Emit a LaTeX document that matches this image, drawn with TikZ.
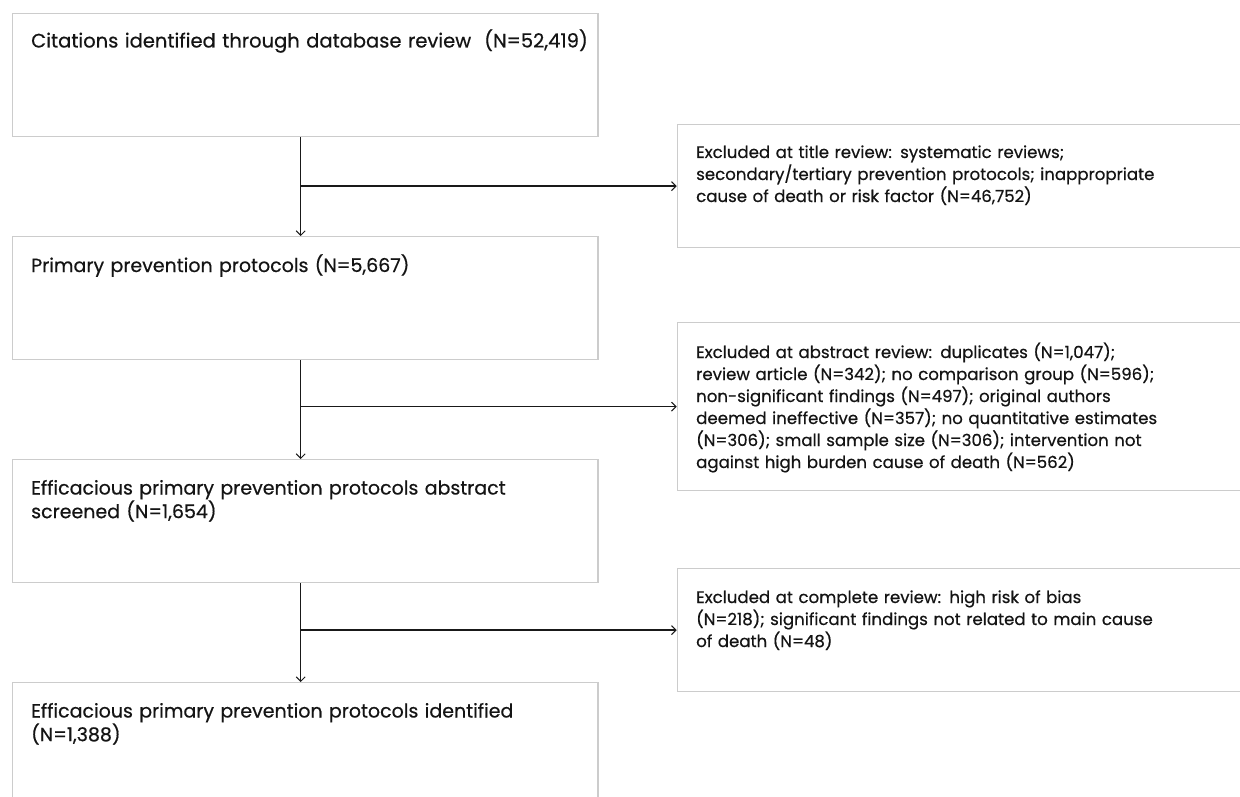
\documentclass[tikz,border=0pt]{standalone}
\usepackage{fontspec}
\setmainfont{Poppins}[FakeBold=0.5]
\usetikzlibrary{arrows.meta}
\tikzset{
  box/.style={draw=black!20, line width=1.3pt, fill=white, inner sep=0pt, anchor=north west, minimum height=123pt},
  leftbox/.style={box, minimum width=585.5pt},
  rightbox/.style={box, minimum width=600pt},
  txt/.style={anchor=base west, inner sep=0pt, align=left, text width=700pt, text=black!92},
  ltxt/.style={txt, font=\fontsize{19pt}{22pt}\selectfont},
  rtxt/.style={txt, font=\fontsize{16.6pt}{22pt}\selectfont},
  arr/.style={draw=black!90, line width=1.4pt, -{Straight Barb[length=4.5pt,width=9pt,line width=1pt]}},
}
\begin{document}
\begin{tikzpicture}[x=1pt,y=-1pt]
\useasboundingbox (0,0) rectangle (1240,797);
\clip (0,0) rectangle (1240,797);
\fill[white] (0,0) rectangle (1240,797);
% left column
\node[leftbox] (a) at (11.7,13) {};
\node[leftbox] (b) at (11.7,236) {};
\node[leftbox] (c) at (11.7,459) {};
\node[leftbox] (d) at (11.7,682) {};
% right column
\node[rightbox] (e1) at (676.7,124) {};
\node[rightbox, minimum height=168pt] (e2) at (676.7,322) {};
\node[rightbox] (e3) at (676.7,568) {};
% texts
\node[ltxt, font=\fontsize{19.5pt}{22pt}\selectfont] (ta) at (31,47.5) {Citations identified through database review~~(N=52,419)};
\node[ltxt] (tb) at (31,272) {Primary prevention protocols (N=5,667)};
\node[ltxt] (tc) at (31,494.5) {Efficacious primary prevention protocols abstract\\screened (N=1,654)};
\node[ltxt] (td) at (31,717.5) {Efficacious primary prevention protocols identified\\(N=1,388)};
\node[rtxt] (te1) at (696,158) {Excluded at title review: systematic reviews;\\secondary/tertiary prevention protocols; inappropriate\\cause of death or risk factor (N=46,752)};
\node[rtxt] (te2) at (696,358) {Excluded at abstract review: duplicates (N=1,047);\\review article (N=342); no comparison group (N=596);\\non-significant findings (N=497); original authors\\deemed ineffective (N=357); no quantitative estimates\\(N=306); small sample size (N=306); intervention not\\against high burden cause of death (N=562)};
\node[rtxt] (te3) at (696,603) {Excluded at complete review: high risk of bias\\(N=218); significant findings not related to main cause\\of death (N=48)};
% connectors
\coordinate (vx) at (300.7,0);
\draw[arr] (a.south -| vx) -- (b.north -| vx);
\draw[arr] (b.south -| vx) -- (c.north -| vx);
\draw[arr] (c.south -| vx) -- (d.north -| vx);
\draw[arr] (e1.west -| vx) -- (e1.west);
\draw[arr] (e2.west -| vx) -- (e2.west);
\draw[arr] (e3.west -| vx) -- (e3.west);
\end{tikzpicture}
\end{document}
